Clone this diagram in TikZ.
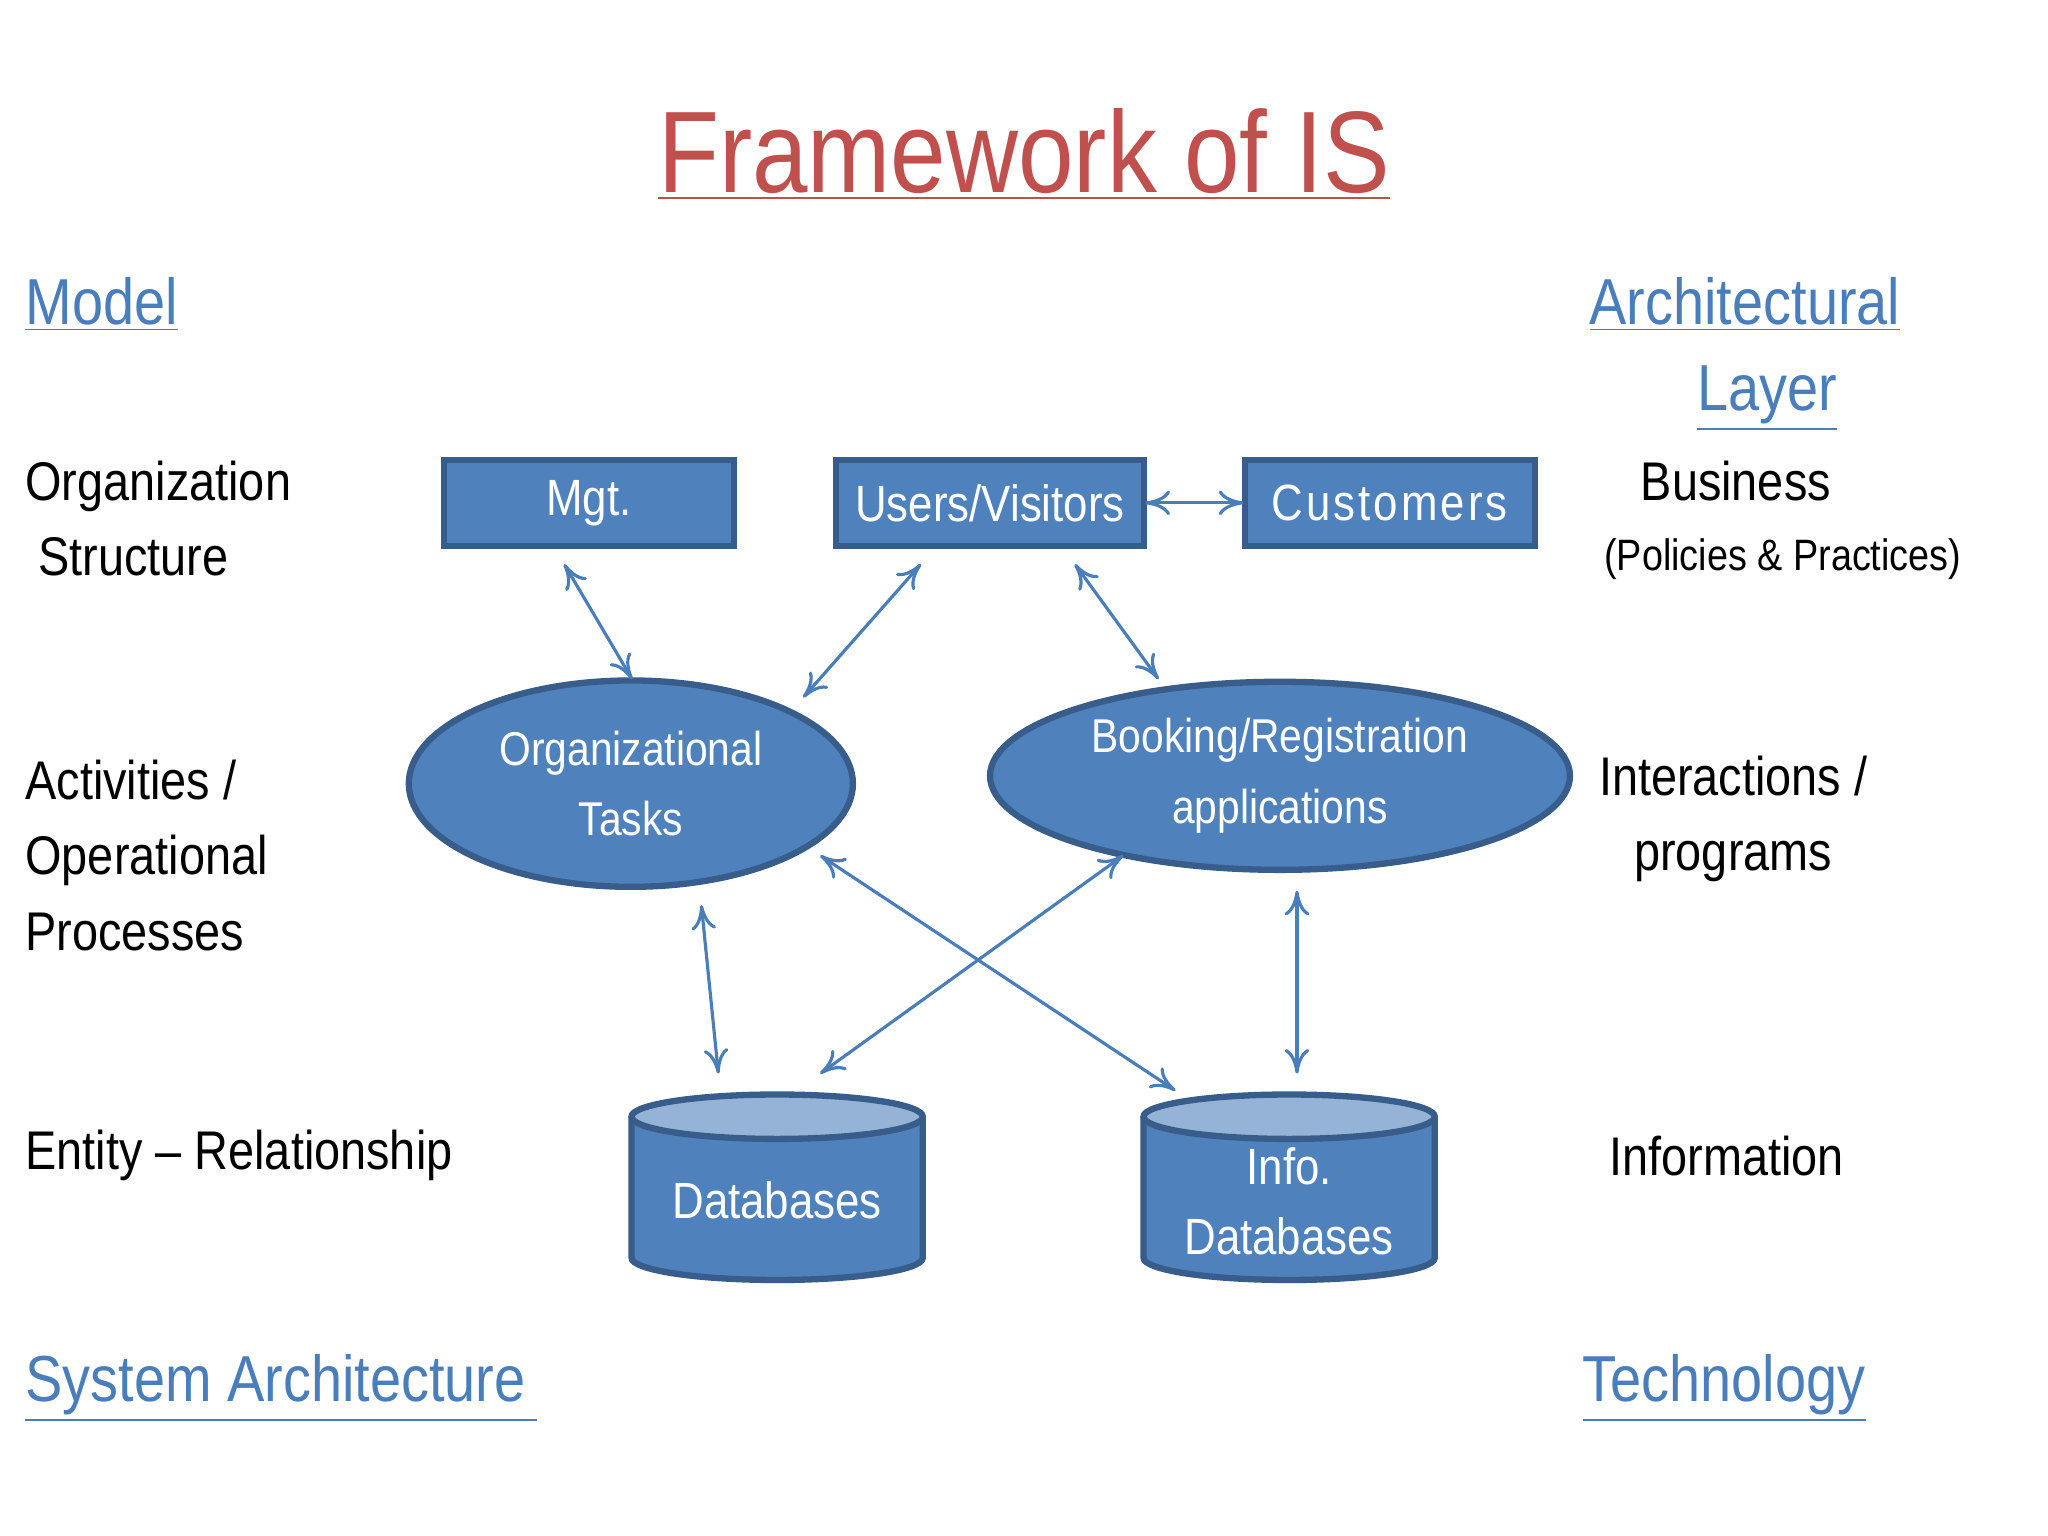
\documentclass[tikz,border=0pt]{standalone}
\usepackage{fontspec}
\setmainfont{Liberation Sans}[FakeStretch=0.86]
\usetikzlibrary{arrows.meta}
\definecolor{fillb}{HTML}{4F81BD}
\definecolor{edgeb}{HTML}{385D8A}
\definecolor{topb}{HTML}{95B3D7}
\definecolor{linkb}{HTML}{4A7EBB}
\definecolor{titler}{HTML}{C0504D}
\begin{document}
\begin{tikzpicture}[x=0.01306cm,y=0.01306cm,
  box/.style={draw=edgeb,line width=1.8pt,fill=fillb,minimum width=2.9cm,minimum height=0.86cm,text=white,font=\fontsize{14.5}{17}\selectfont},
  ell/.style={text=white,align=center,font=\fontsize{13.5}{20}\selectfont},
  lab/.style={anchor=west,align=left,font=\fontsize{15.5}{21.5}\selectfont},
  rlab/.style={align=center,font=\fontsize{15.5}{21.5}\selectfont},
  hdr/.style={text=linkb,font=\fontsize{18.5}{26}\selectfont},
  lnk/.style={draw=linkb,line width=0.9pt,{To[length=7pt,width=7pt]}-{To[length=7pt,width=7pt]}}]
\useasboundingbox (0,0) rectangle (1568,1176);
\fill[white] (0,0) rectangle (1568,1176);
% title
\node (title) at (784,1058) {\textcolor{titler}{\fontsize{33}{40}\selectfont\underline{Framework of IS}}};
% headers
\node[hdr,anchor=west] (model) at (10,943) {\underline{Model}};
\node[hdr,anchor=west] (sysarch) at (10,113) {\underline{System Architecture\,}};
\node[hdr] (arch) at (1336,943) {\underline{Architectural}};
\node[hdr] (layer) at (1353,871) {\underline{Layer}};
\node[hdr] (tech) at (1320,113) {\underline{Technology}};
% left labels
\node[lab] (org) at (10,779) {Organization\\\ Structure};
\node[lab] (act) at (10,521) {Activities /\\Operational\\Processes};
\node[lab] (ent) at (10,291) {Entity -- Relationship};
% right labels
\node[rlab] (bus) at (1329,808) {Business};
\node[rlab,font=\fontsize{12.5}{15}\selectfont] (pol) at (1365,748) {(Policies \& Practices)};
\node[rlab] (inter) at (1327,549) {Interactions /\\programs};
\node[rlab] (info) at (1322,291) {Information};
% boxes
\node[box] (mgt) at (451,791) {Mgt.};
\node[box,minimum width=3.08cm] (users) at (758,791) {Users/Visitors};
\node[box] (cust) at (1064,791) {\addfontfeature{LetterSpace=6}Customers};
% ellipses
\draw[draw=edgeb,line width=1.8pt,fill=fillb] (483,576) ellipse [x radius=170,y radius=79];
\node[ell] (orgt) at (483,576) {Organizational\\Tasks};
\draw[draw=edgeb,line width=1.8pt,fill=fillb] (980,582) ellipse [x radius=222,y radius=72];
\node[ell] (book) at (980,582) {Booking/Registration\\applications};
% cylinders
\foreach \cx in {595,987}{
  \draw[draw=edgeb,line width=1.8pt,fill=fillb] (\cx-111.5,321) -- (\cx-111.5,213) arc[start angle=180,end angle=360,x radius=111.5,y radius=17] -- (\cx+111.5,321);
  \draw[draw=edgeb,line width=1.8pt,fill=topb] (\cx,321) ellipse [x radius=111.5,y radius=17];
}
\node[text=white,font=\fontsize{14.5}{20}\selectfont] (dbt) at (595,257) {Databases};
\node[text=white,align=center,font=\fontsize{14.5}{20}\selectfont] (idbt) at (987,256) {Info.\\Databases};
% connector endpoints
\coordinate (a1) at (432,744); \coordinate (a2) at (484,656);
\coordinate (b1) at (705,744); \coordinate (b2) at (615,642);
\coordinate (c1) at (823,744); \coordinate (c2) at (887,656);
\coordinate (d1) at (877,791); \coordinate (d2) at (952,791);
\coordinate (e1) at (537,483); \coordinate (e2) at (550,354);
\coordinate (f1) at (628,521); \coordinate (f2) at (900,341);
\coordinate (g1) at (860,521); \coordinate (g2) at (628,354);
\coordinate (h1) at (993,494); \coordinate (h2) at (993,354);
\foreach \p in {a,b,c,d,e,f,g,h}{\draw[lnk] (\p1) -- (\p2);}
\end{tikzpicture}
\end{document}
